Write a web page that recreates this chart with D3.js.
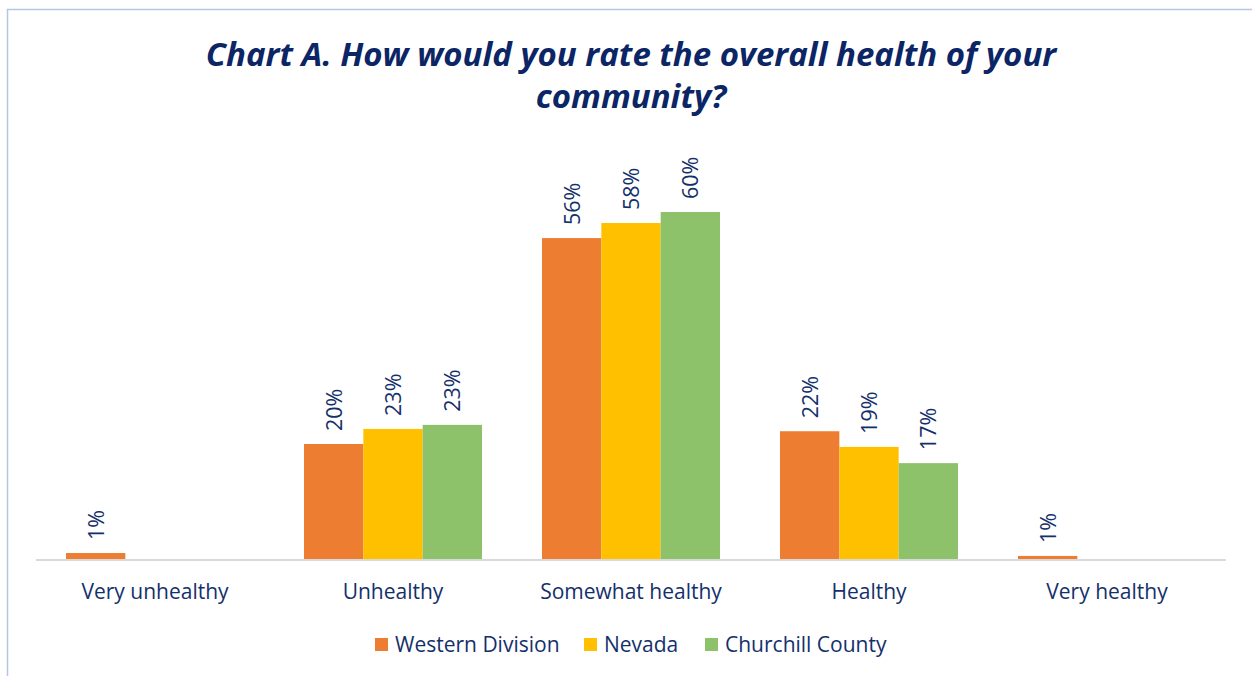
<!DOCTYPE html>
<html>
<head>
<meta charset="utf-8">
<script src="https://cdn.jsdelivr.net/npm/d3@7"></script>
<style>
  html, body { margin: 0; padding: 0; background: #fff; }
  svg { display: block; }
  text { font-family: "Open Sans", Lato, sans-serif; }
</style>
</head>
<body>
<svg id="chart" width="1252" height="676"></svg>
<script>
const categories = ["Very unhealthy", "Unhealthy", "Somewhat healthy", "Healthy", "Very healthy"];
const seriesNames = ["Western Division", "Nevada", "Churchill County"];
const westernDivision = [1.2, 20, 55.5, 22.2, 0.7];
const nevada = [null, 22.6, 58.1, 19.5, null];
const churchillCounty = [null, 23.3, 60, 16.7, null];
const valueLabels = [
  ["1%", "20%", "56%", "22%", "1%"],
  ["", "23%", "58%", "19%", ""],
  ["", "23%", "60%", "17%", ""]
];
const colors = ["#ED7D31", "#FFC000", "#8DC16A"];
const titleLines = ["Chart A. How would you rate the overall health of your", "community?"];

const series = [westernDivision, nevada, churchillCounty];
const svg = d3.select("#chart");
const W = 1252, H = 676;
const textColor = "#14306B";

// outer border
svg.append("rect").attr("x", 7.5).attr("y", 9.5).attr("width", W + 20).attr("height", H + 20)
  .attr("fill", "none").attr("stroke", "#B4C7E7").attr("stroke-width", 1.5);

// title
const title = svg.append("text").attr("text-anchor", "middle")
  .attr("fill", "#0B2565").attr("font-weight", "bold").attr("font-style", "italic")
  .attr("font-size", 33);
titleLines.forEach((t, i) => {
  title.append("tspan").attr("x", 631).attr("y", 66 + i * 42).text(t);
});

const baseY = 560;
const x0 = d3.scaleBand().domain(categories).range([36, 1226]).paddingInner(60 / 238).paddingOuter(30 / 238);
const x1 = d3.scaleBand().domain(seriesNames).range([0, x0.bandwidth()]);
const y = d3.scaleLinear().domain([0, 60]).range([baseY, 212]);

// bars
seriesNames.forEach((s, si) => {
  const g = svg.append("g");
  categories.forEach((c, ci) => {
    const v = series[si][ci];
    if (v == null) return;
    g.append("rect")
      .attr("x", x0(c) + x1(s))
      .attr("y", y(v))
      .attr("width", x1.bandwidth())
      .attr("height", baseY - y(v))
      .attr("fill", colors[si]);
    const lx = x0(c) + x1(s) + x1.bandwidth() / 2 + 8;
    const ly = y(v) - 13;
    svg.append("text")
      .attr("transform", `translate(${lx},${ly}) rotate(-90)`)
      .attr("text-anchor", "start")
      .attr("font-size", 21.5)
      .attr("fill", textColor)
      .text(valueLabels[si][ci]);
  });
});

// axis
const axis = svg.append("g").attr("transform", `translate(0,${baseY})`)
  .call(d3.axisBottom(x0).tickSize(0).tickPadding(24));
axis.select(".domain").attr("stroke", "#D9D9D9").attr("stroke-width", 2)
  .attr("d", `M36,0H1226`);
axis.selectAll("text").attr("font-size", 21).attr("fill", textColor)
  .attr("font-family", "'Open Sans', Lato, sans-serif");

// legend
const legendItems = [
  { name: seriesNames[0], x: 375 },
  { name: seriesNames[1], x: 584 },
  { name: seriesNames[2], x: 705 }
];
legendItems.forEach((d, i) => {
  svg.append("rect").attr("x", d.x).attr("y", 638).attr("width", 13).attr("height", 13).attr("fill", colors[i]);
  svg.append("text").attr("x", d.x + 20).attr("y", 652).attr("font-size", 21).attr("fill", textColor).text(d.name);
});
</script>
</body>
</html>
